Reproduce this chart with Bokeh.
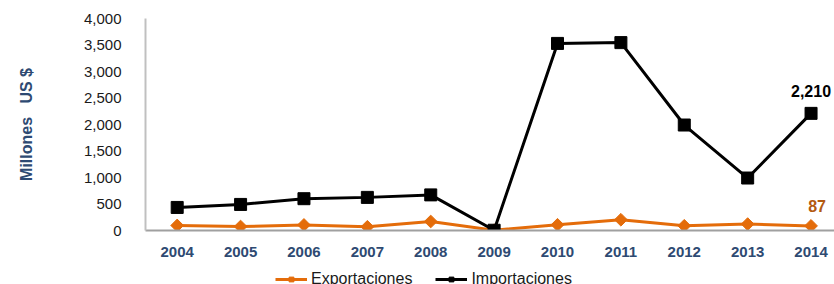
import math
from bokeh.plotting import figure
from bokeh.layouts import column
from bokeh.models import Range1d, FixedTicker, Legend, LegendItem, NumeralTickFormatter
from bokeh.core.properties import value
from bokeh.embed import file_html
from bokeh.resources import INLINE

years = [2004, 2005, 2006, 2007, 2008, 2009, 2010, 2011, 2012, 2013, 2014]
exportaciones = [95, 75, 105, 70, 170, 5, 108, 203, 89, 121, 87]
importaciones = [435, 492, 600, 625, 672, 5, 3530, 3545, 1990, 990, 2210]
y_ticks = [0, 500, 1000, 1500, 2000, 2500, 3000, 3500, 4000]
last_labels = ["2,210", "87"]
series_names = ["Exportaciones", "Importaciones"]

FONT = "Liberation Sans"
NAVY = "#2E4A72"
ORANGE = "#E46C0A"

p = figure(frame_width=689, frame_height=212, output_backend="svg", toolbar_location=None,
           x_range=Range1d(2003.5, 2014.37), y_range=Range1d(0, 4000),
           min_border_left=145, min_border_top=18, min_border_bottom=36, min_border_right=0)
p.outline_line_color = None
p.grid.visible = False
p.background_fill_color = "white"

p.line(years, exportaciones, line_color=ORANGE, line_width=3)
p.scatter(years, exportaciones, marker="square", size=9, angle=math.pi / 4,
          fill_color=ORANGE, line_color=ORANGE)
p.line(years, importaciones, line_color="black", line_width=3)
p.scatter(years, importaciones, marker="square", size=12, fill_color="black", line_color="black")

p.text([years[-1]], [importaciones[-1]], text=[last_labels[0]], text_font=value(FONT),
       text_font_size="16px", text_font_style="bold", text_color="black",
       text_align="center", text_baseline="middle", y_offset=-22)
p.text([years[-1]], [exportaciones[-1]], text=[last_labels[1]], text_font=value(FONT),
       text_font_size="16px", text_font_style="bold", text_color="#B35A10",
       text_align="center", text_baseline="middle", x_offset=6, y_offset=-20)

p.xaxis.ticker = FixedTicker(ticks=years)
p.xaxis.major_tick_line_color = None
p.xaxis.minor_tick_line_color = None
p.xaxis.axis_line_color = "#A0A0A0"
p.xaxis.axis_line_width = 2
p.xaxis.major_label_text_font = FONT
p.xaxis.major_label_text_font_size = "15px"
p.xaxis.major_label_text_font_style = "bold"
p.xaxis.major_label_text_color = NAVY
p.xaxis.major_label_standoff = 10

p.yaxis.ticker = FixedTicker(ticks=y_ticks)
p.yaxis.formatter = NumeralTickFormatter(format="0,0")
p.yaxis.major_tick_line_color = None
p.yaxis.minor_tick_line_color = None
p.yaxis.axis_line_color = "#C0C0C0"
p.yaxis.axis_line_width = 2
p.yaxis.major_label_text_font = FONT
p.yaxis.major_label_text_font_size = "15px"
p.yaxis.major_label_text_color = "#1A1A1A"
p.yaxis.major_label_standoff = 18
p.yaxis.axis_label = "Millones\u00a0\u00a0\u00a0US $"
p.yaxis.axis_label_text_font = FONT
p.yaxis.axis_label_text_font_size = "16px"
p.yaxis.axis_label_text_font_style = "bold"
p.yaxis.axis_label_text_color = NAVY
p.yaxis.axis_label_standoff = 46

# legend strip as its own small figure below the chart (its sample glyphs sit outside the visible range)
q = figure(width=834, height=22, output_backend="svg", toolbar_location=None,
           x_range=Range1d(0, 1), y_range=Range1d(0, 1),
           x_axis_location=None, y_axis_location=None,
           min_border_left=0, min_border_right=0, min_border_top=0, min_border_bottom=0)
q.outline_line_color = None
q.grid.visible = False
hidden_x = [-10, -9]
hidden_y = [-10, -10]
ql1 = q.line(x=hidden_x, y=hidden_y, line_color=ORANGE, line_width=3)
qm1 = q.scatter(x=hidden_x, y=hidden_y, marker="square", size=9, angle=math.pi / 4,
                fill_color=ORANGE, line_color=ORANGE)
ql2 = q.line(x=hidden_x, y=hidden_y, line_color="black", line_width=3)
qm2 = q.scatter(x=hidden_x, y=hidden_y, marker="square", size=12, fill_color="black", line_color="black")

legend = Legend(items=[LegendItem(label=series_names[0], renderers=[ql1, qm1]),
                       LegendItem(label=series_names[1], renderers=[ql2, qm2])],
                orientation="horizontal", location=(130, 0))
legend.border_line_color = None
legend.background_fill_alpha = 0
legend.label_text_font = FONT
legend.label_text_font_size = "16px"
legend.label_text_color = "#1A1A1A"
legend.glyph_width = 32
legend.glyph_height = 12
legend.label_height = 14
legend.label_standoff = 4
legend.spacing = 23
legend.padding = 0
legend.margin = 0
q.add_layout(legend, "center")

layout = column(p, q, spacing=0)
open("out.html", "w").write(file_html(layout, INLINE))
